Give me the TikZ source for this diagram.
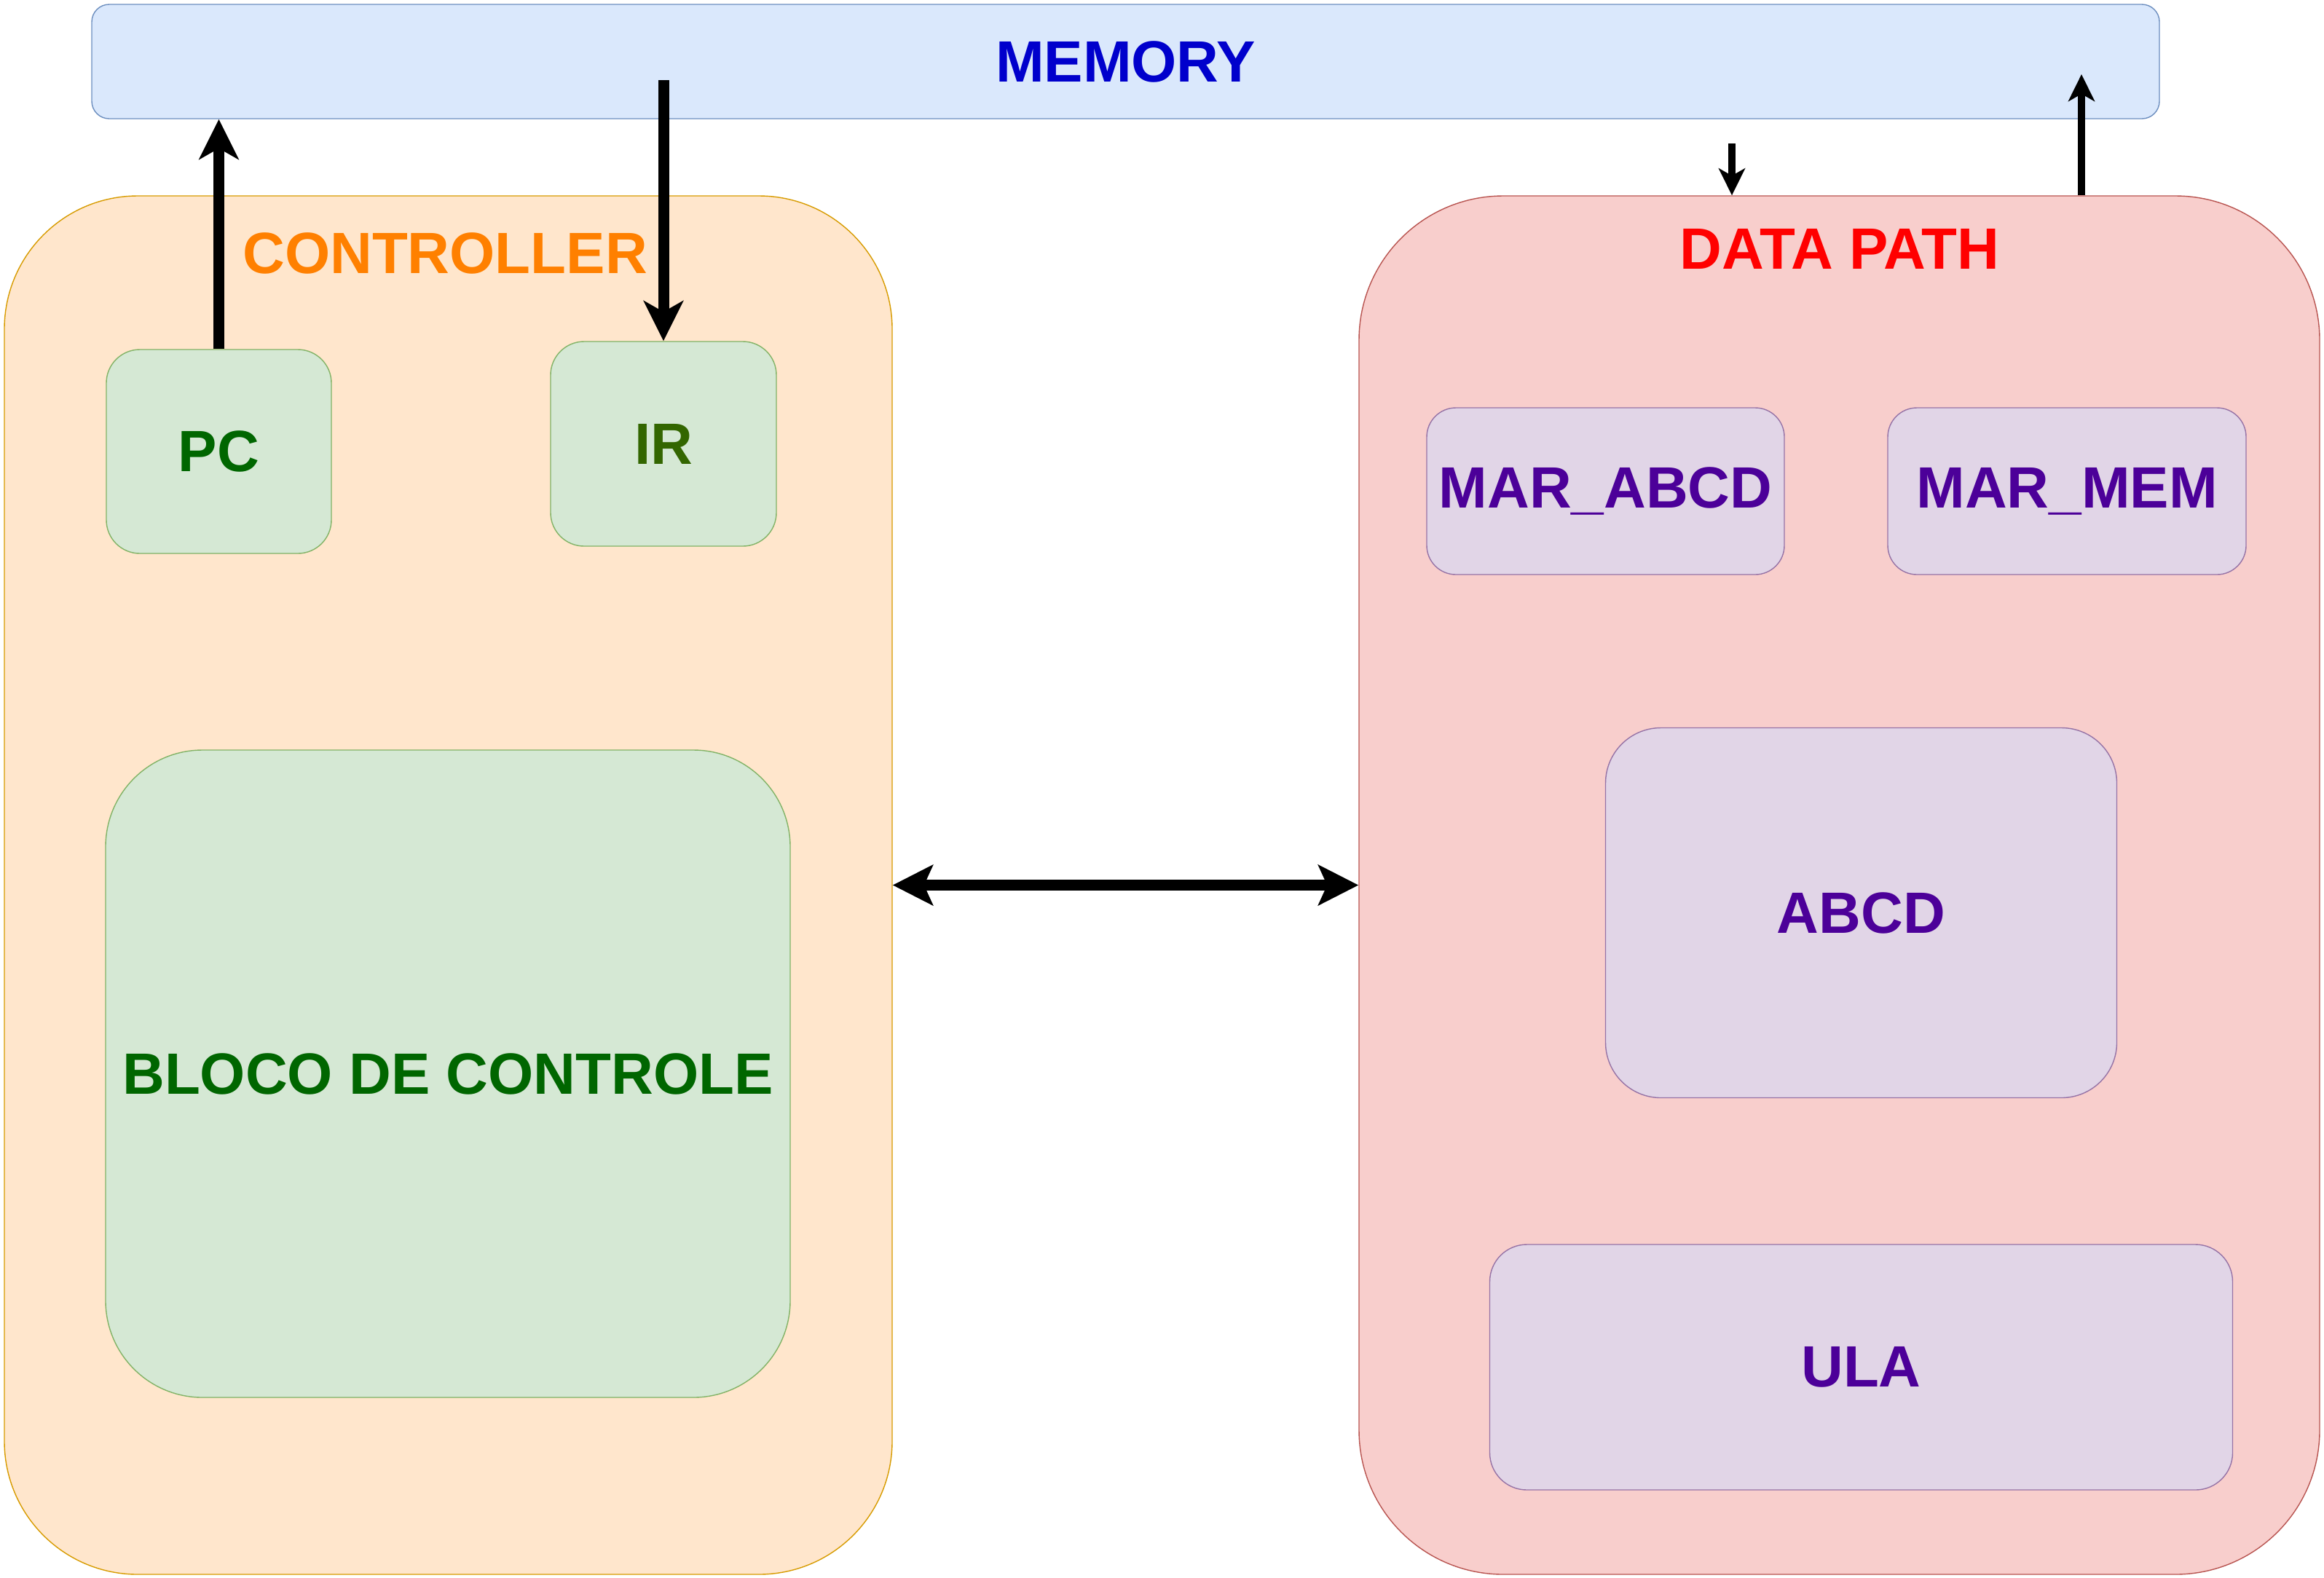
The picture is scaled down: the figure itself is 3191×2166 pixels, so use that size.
\documentclass[tikz,border=0pt]{standalone}
\usepackage{fontspec}
\setmainfont{Liberation Sans}
\usepackage{tikz}
\usetikzlibrary{arrows.meta}

\definecolor{memfill}{HTML}{DAE8FC}
\definecolor{memline}{HTML}{6C8EBF}
\definecolor{memtext}{HTML}{0000CC}
\definecolor{ctrlfill}{HTML}{FFE6CC}
\definecolor{ctrlline}{HTML}{D79B00}
\definecolor{ctrltext}{HTML}{FF8000}
\definecolor{regfill}{HTML}{D5E8D4}
\definecolor{regline}{HTML}{82B366}
\definecolor{pctext}{HTML}{006600}
\definecolor{irtext}{HTML}{336600}
\definecolor{dpfill}{HTML}{F8CECC}
\definecolor{dpline}{HTML}{B85450}
\definecolor{dptext}{HTML}{FF0000}
\definecolor{unitfill}{HTML}{E1D5E7}
\definecolor{unitline}{HTML}{9673A6}
\definecolor{unittext}{HTML}{4C0099}

\begin{document}
\begin{tikzpicture}[x=0.25pt,y=0.25pt,yscale=-1,
    lbl/.style={font=\fontsize{20}{24}\selectfont\bfseries},
    blk/.style={lbl,draw,line width=0.35pt,inner sep=0pt,align=center},
    membox/.style={blk,fill=memfill,draw=memline,text=memtext},
    ctrlbox/.style={blk,fill=ctrlfill,draw=ctrlline},
    regbox/.style={blk,fill=regfill,draw=regline},
    dpbox/.style={blk,fill=dpfill,draw=dpline},
    unitbox/.style={blk,fill=unitfill,draw=unitline,text=unittext},
    bigarrow/.style={line width=3.75pt,-{Stealth[length=13.75pt,width=13.5pt,inset=3.75pt]}},
    bothways/.style={line width=3.75pt,{Stealth[length=13.75pt,width=13.75pt,inset=3pt]}-{Stealth[length=13.75pt,width=13.75pt,inset=3pt]}},
    smallarrow/.style={line width=2.5pt,-{Stealth[length=9.25pt,width=9pt,inset=2.5pt]}}]
    \useasboundingbox (0,0) rectangle (3191,2166);

    \node[membox,minimum width=709.75pt,minimum height=39.25pt,rounded corners=6pt] (mem) at (1545.5,84.5) {MEMORY};

    \node[ctrlbox,minimum width=304.75pt,minimum height=473.25pt,rounded corners=45.75pt] (ctrl) at (615.5,1215.5) {};
    \node[lbl,text=ctrltext] (ctrllbl) at (611,348) {CONTROLLER};
    \node[regbox,text=pctext,minimum width=77.25pt,minimum height=70pt,rounded corners=11.5pt] (pc) at (300.5,620) {PC};
    \node[regbox,text=irtext,minimum width=77.5pt,minimum height=70.25pt,rounded corners=11.5pt] (ir) at (911,609.5) {IR};
    \node[regbox,text=pctext,minimum width=235pt,minimum height=222.25pt,rounded corners=33.25pt] (bloco) at (615,1474.5) {BLOCO DE CONTROLE};

    \node[dpbox,minimum width=329.75pt,minimum height=473.25pt,rounded corners=49.5pt] (dp) at (2525.5,1215.5) {};
    \node[lbl,text=dptext] (dplbl) at (2526,342) {DATA PATH};
    \node[unitbox,minimum width=122.75pt,minimum height=57.25pt,rounded corners=10pt] (marabcd) at (2204.5,674.5) {MAR\_ABCD};
    \node[unitbox,minimum width=123pt,minimum height=57.25pt,rounded corners=10pt] (marmem) at (2838,674.5) {MAR\_MEM};
    \node[unitbox,minimum width=175.5pt,minimum height=127pt,rounded corners=19pt] (abcd) at (2555.5,1253.5) {ABCD};
    \node[unitbox,minimum width=255pt,minimum height=84.25pt,rounded corners=12.75pt] (ula) at (2555.5,1877.5) {ULA};

    \coordinate (irsrc) at (911,110);
    \coordinate (dpsrc) at (2378,197);
    \coordinate (memdst) at (2858,102);

    \draw[bigarrow] (pc.north) -- (pc.north |- mem.south);
    \draw[bigarrow] (irsrc) -- (ir.north);
    \draw[smallarrow] (dpsrc) -- (dpsrc |- dp.north);
    \draw[smallarrow] (memdst |- dp.north) -- (memdst);
    \draw[bothways] (ctrl.east) -- (dp.west);
\end{tikzpicture}
\end{document}
